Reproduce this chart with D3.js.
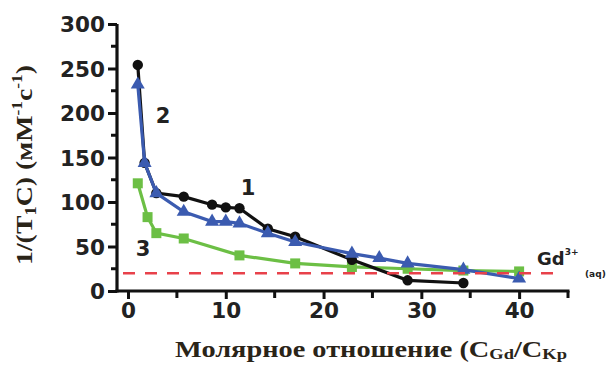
<!DOCTYPE html>
<html>
<head>
<meta charset="utf-8">
<script src="https://cdn.jsdelivr.net/npm/d3@7/dist/d3.min.js"></script>
<style>
  html, body { margin: 0; padding: 0; background: #fff; }
  svg { display: block; }
  .tick text { font-family: "DejaVu Sans", sans-serif; font-weight: bold; font-size: 21.5px; fill: #222; }
</style>
</head>
<body>
<svg id="chart" width="609" height="365"></svg>
<script>
// Relaxivity 1/(T1C) versus Gd / cryptand molar ratio
const xTicks = [0, 10, 20, 30, 40];
const yTicks = [0, 50, 100, 150, 200, 250, 300];

const series1X = [1, 1.7, 2.9, 5.7, 8.6, 10, 11.4, 14.3, 17.1, 22.9, 28.6, 34.3];
const series1Y = [254, 144, 110, 106, 97, 94, 93, 70, 61, 35, 12, 9];

const series2X = [1, 1.7, 2.9, 5.7, 8.6, 10, 11.4, 14.3, 17.1, 22.9, 25.7, 28.6, 34.3, 40];
const series2Y = [232, 144, 110, 89, 78, 78, 76, 65, 55, 42, 37, 31, 24, 14];

const series3X = [1, 2, 2.9, 5.7, 11.4, 17.1, 22.9, 28.6, 34.3, 40];
const series3Y = [121, 83, 65, 59, 40, 31, 27, 25, 23, 22];

const gdAqLevel = 20;

const svg = d3.select("#chart");

const x = d3.scaleLinear().domain([0, 45]).range([128, 568]);
const y = d3.scaleLinear().domain([0, 300]).range([291, 24]);
const axisLeftX = 117;

// Y axis: major every 50, minor every 25
const yAxis = d3.axisLeft(y).tickValues(yTicks).tickSize(9).tickPadding(3).tickSizeOuter(0);
const gy = svg.append("g").attr("transform", `translate(${axisLeftX},0)`).call(yAxis);
gy.select(".domain").attr("stroke", "#111").attr("stroke-width", 3.2).attr("d", `M0,${y(0)+1.5}V${y(300)}`);
gy.selectAll(".tick line").attr("stroke", "#111").attr("stroke-width", 3);
gy.selectAll(".tick text").attr("dy", "0.36em");
svg.append("g").selectAll("line").data(d3.range(25, 300, 50)).join("line")
  .attr("x1", axisLeftX - 6).attr("x2", axisLeftX)
  .attr("y1", d => y(d)).attr("y2", d => y(d))
  .attr("stroke", "#111").attr("stroke-width", 3);

// X axis: major every 10, minor every 5
const xAxis = d3.axisBottom(x).tickValues(xTicks).tickSize(8).tickPadding(4).tickSizeOuter(0);
const gx = svg.append("g").attr("transform", `translate(0,${y(0)})`).call(xAxis);
gx.select(".domain").attr("stroke", "#111").attr("stroke-width", 3.2).attr("d", `M${axisLeftX-1.5},0H${x(45)+1.5}`);
gx.selectAll(".tick line").attr("stroke", "#111").attr("stroke-width", 3);
svg.append("g").selectAll("line").data(d3.range(5, 50, 10)).join("line")
  .attr("x1", d => x(d)).attr("x2", d => x(d))
  .attr("y1", y(0)).attr("y2", y(0) + 7)
  .attr("stroke", "#111").attr("stroke-width", 3);

const line = d3.line().x(d => x(d[0])).y(d => y(d[1]));
const pairs = (xs, ys) => xs.map((v, i) => [v, ys[i]]);

const data1 = pairs(series1X, series1Y);
const data2 = pairs(series2X, series2Y);
const data3 = pairs(series3X, series3Y);

// Curve 3 (green squares)
svg.append("path").datum(data3).attr("d", line)
  .attr("fill", "none").attr("stroke", "#6cbf45").attr("stroke-width", 3.2);
svg.append("g").selectAll("rect").data(data3).join("rect")
  .attr("x", d => x(d[0]) - 5).attr("y", d => y(d[1]) - 5)
  .attr("width", 10).attr("height", 10).attr("fill", "#6cbf45");

// Curve 1 (black circles)
svg.append("path").datum(data1).attr("d", line)
  .attr("fill", "none").attr("stroke", "#111").attr("stroke-width", 3.2);
svg.append("g").selectAll("circle").data(data1).join("circle")
  .attr("cx", d => x(d[0])).attr("cy", d => y(d[1])).attr("r", 5.2).attr("fill", "#111");

// Curve 2 (blue triangles)
svg.append("path").datum(data2).attr("d", line)
  .attr("fill", "none").attr("stroke", "#3b5bb0").attr("stroke-width", 3.2);
const tri = d3.symbol().type(d3.symbolTriangle).size(85);
svg.append("g").selectAll("path").data(data2).join("path")
  .attr("d", tri).attr("transform", d => `translate(${x(d[0])},${y(d[1])})`)
  .attr("fill", "#3b5bb0");

// Free Gd3+ reference level
svg.append("line")
  .attr("x1", axisLeftX + 6).attr("x2", x(43.5))
  .attr("y1", y(gdAqLevel)).attr("y2", y(gdAqLevel))
  .attr("stroke", "#e8414a").attr("stroke-width", 2.6).attr("stroke-dasharray", "12,10");

// Curve numbers
const numStyle = s => s.attr("font-family", "DejaVu Sans, sans-serif").attr("font-weight", "bold")
  .attr("font-size", 21).attr("fill", "#222").attr("text-anchor", "middle");
svg.append("text").attr("x", 248).attr("y", 195).text("1").call(numStyle);
svg.append("text").attr("x", 163).attr("y", 123).text("2").call(numStyle);
svg.append("text").attr("x", 143).attr("y", 256).text("3").call(numStyle);

// Gd3+(aq) label
const gd = svg.append("text").attr("x", 537).attr("y", 265)
  .attr("font-family", "DejaVu Sans, sans-serif").attr("font-weight", "bold")
  .attr("font-size", 18).attr("fill", "#222");
gd.append("tspan").text("Gd");
gd.append("tspan").attr("font-size", 9).attr("dy", -10).text("3+");
gd.append("tspan").attr("font-size", 9).attr("x", 585).attr("dy", 22).text("(aq)");

// Axis titles
const yTitle = svg.append("text")
  .attr("transform", "translate(32,165) rotate(-90)")
  .attr("text-anchor", "middle")
  .attr("textLength", 200).attr("lengthAdjust", "spacingAndGlyphs")
  .attr("font-family", "Liberation Serif, Times New Roman, serif").attr("font-weight", "bold")
  .attr("font-size", 24).attr("fill", "#2a2418");
yTitle.append("tspan").text("1/(T");
yTitle.append("tspan").attr("font-size", 16).attr("dy", 4).text("1");
yTitle.append("tspan").attr("dy", -4).text("C) (мМ");
yTitle.append("tspan").attr("font-size", 15).attr("dy", -10).text("-1");
yTitle.append("tspan").attr("dy", 10).text("с");
yTitle.append("tspan").attr("font-size", 15).attr("dy", -10).text("-1");
yTitle.append("tspan").attr("dy", 10).text(")");

const xTitle = svg.append("text")
  .attr("x", 175).attr("y", 357)
  .attr("textLength", 392).attr("lengthAdjust", "spacingAndGlyphs")
  .attr("font-family", "Liberation Serif, Times New Roman, serif").attr("font-weight", "bold")
  .attr("font-size", 23).attr("fill", "#2a2418");
xTitle.append("tspan").text("Молярное отношение (C");
xTitle.append("tspan").attr("font-size", 15).attr("dy", 2).text("Gd");
xTitle.append("tspan").attr("dy", -2).text("/C");
xTitle.append("tspan").attr("font-size", 15).attr("dy", 2).text("Kp");
</script>
</body>
</html>
